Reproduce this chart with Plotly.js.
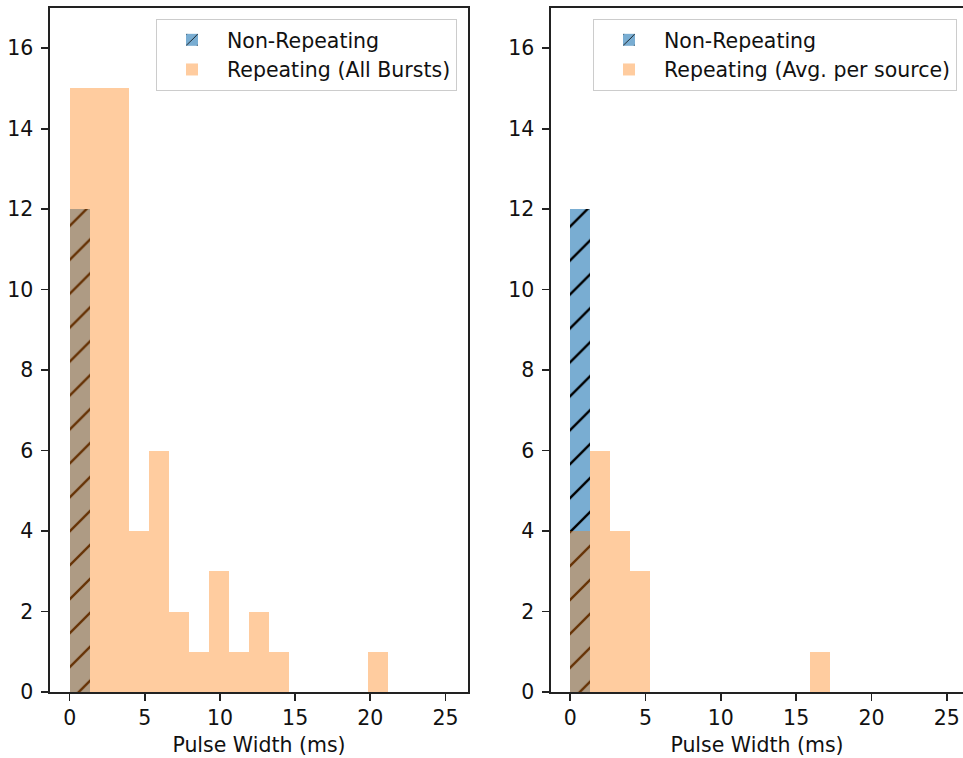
<!DOCTYPE html>
<html>
<head>
<meta charset="utf-8">
<script src="https://cdn.plot.ly/plotly-3.0.1.min.js"></script>
<style>html,body{margin:0;padding:0;background:#fff;}#chart{width:963px;height:758px;}</style>
</head>
<body>
<div id="chart"></div>
<script>
// Histogram bin width (ms) and counts per bin, bins starting at 0
const binWidth = 1.325;
const nonRepeatingLeft = [12,0,0,0,0,0,0,0,0,0,0,0,0,0,0,0,0,0,0,0];
const repeatingAllBursts = [15,15,15,4,6,2,1,3,1,2,1,0,0,0,0,1,0,0,0,0];
const nonRepeatingRight = [12,0,0,0,0,0,0,0,0,0,0,0,0,0,0,0,0,0,0,0];
const repeatingAvgPerSource = [4,6,4,3,0,0,0,0,0,0,0,0,1,0,0,0,0,0,0,0];
const xTicks = [0,5,10,15,20,25];
const yTicks = [0,2,4,6,8,10,12,14,16];
const xTitle = 'Pulse Width (ms)';

const binStarts = arr => arr.map((_, i) => i * binWidth);

const blue = 'rgba(31,119,180,0.6)';
const orange = 'rgba(255,127,14,0.4)';
const pattern = {shape: '/', fgcolor: '#000000', fgopacity: 1, bgcolor: blue, size: 24, solidity: 0.1};

function nonRep(counts, xa, ya, leg) {
  return {type: 'bar', x: binStarts(counts), y: counts, width: binWidth, offset: 0,
    xaxis: xa, yaxis: ya, legend: leg, name: 'Non-Repeating',
    marker: {color: blue, pattern: pattern, line: {width: 0}}, hoverinfo: 'x+y'};
}
function rep(counts, name, xa, ya, leg) {
  return {type: 'bar', x: binStarts(counts), y: counts, width: binWidth, offset: 0,
    xaxis: xa, yaxis: ya, legend: leg, name: name,
    marker: {color: orange, line: {width: 0}}, hoverinfo: 'x+y'};
}

const data = [
  nonRep(nonRepeatingLeft, 'x', 'y', 'legend'),
  rep(repeatingAllBursts, 'Repeating (All Bursts)', 'x', 'y', 'legend'),
  nonRep(nonRepeatingRight, 'x2', 'y2', 'legend2'),
  rep(repeatingAvgPerSource, 'Repeating (Avg. per source)', 'x2', 'y2', 'legend2')
];

const W = 963, H = 758;
const font = {family: 'DejaVu Sans, sans-serif', size: 20.5, color: '#111111'};
const axisCommon = {
  showgrid: false, zeroline: false, showline: true, linecolor: '#222222', linewidth: 1.6,
  ticks: 'outside', ticklen: 7, tickwidth: 1.6, tickcolor: '#222222',
  tickfont: font, automargin: false, fixedrange: true
};
const yDomain = [1 - 692 / H, 1 - 8 / H];

const legendCommon = {
  xanchor: 'right', y: 1 - 19 / H, yanchor: 'top',
  bgcolor: 'rgba(255,255,255,0.85)', bordercolor: '#cccccc', borderwidth: 1,
  font: font, itemwidth: 60, tracegroupgap: 0
};

const layout = {
  width: W, height: H,
  margin: {l: 0, r: 0, t: 0, b: 0},
  paper_bgcolor: '#ffffff', plot_bgcolor: '#ffffff',
  font: font,
  barmode: 'overlay', bargap: 0,
  showlegend: true,
  xaxis: Object.assign({}, axisCommon, {
    domain: [50 / W, 468 / W], range: [-1.31, 26.5], tickvals: xTicks, mirror: true,
    anchor: 'y', title: {text: xTitle, font: font, standoff: 8}
  }),
  yaxis: Object.assign({}, axisCommon, {
    domain: yDomain, range: [0, 17], tickvals: yTicks, mirror: true, anchor: 'x',
    ticklabelstandoff: 4
  }),
  xaxis2: Object.assign({}, axisCommon, {
    domain: [551 / W, 1], range: [-1.28, 26.08], tickvals: xTicks, mirror: true,
    anchor: 'y2', title: {text: xTitle, font: font, standoff: 8}
  }),
  yaxis2: Object.assign({}, axisCommon, {
    domain: yDomain, range: [0, 17], tickvals: yTicks, mirror: false, anchor: 'x2',
    ticklabelstandoff: 4
  }),
  legend: Object.assign({}, legendCommon, {x: 457 / W}),
  legend2: Object.assign({}, legendCommon, {x: 957 / W})
};

Plotly.newPlot('chart', data, layout, {displayModeBar: false, staticPlot: true});
</script>
</body>
</html>
